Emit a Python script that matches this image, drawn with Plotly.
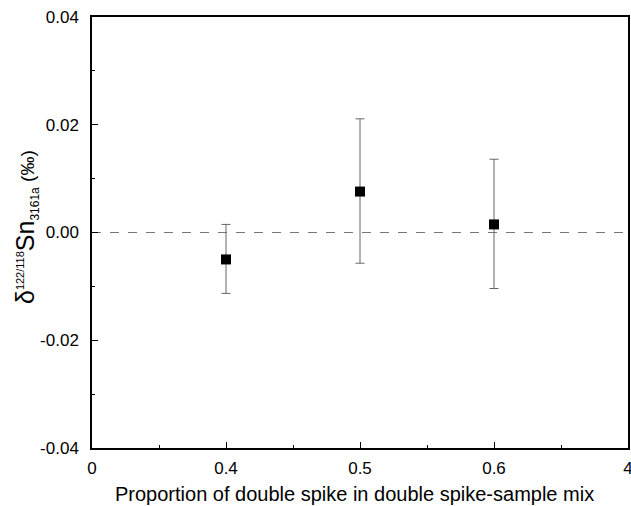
import plotly.graph_objects as go

x_vals = [0.4, 0.5, 0.6]
y_vals = [-0.0050, 0.0076, 0.0015]
y_upper = [0.0015, 0.0211, 0.0136]
y_lower = [-0.0113, -0.0057, -0.0104]

x_tickvals = [0.3, 0.4, 0.5, 0.6, 0.7]
x_ticktext = ["0", "0.4", "0.5", "0.6", "4"]
y_tickvals = [-0.04, -0.02, 0.0, 0.02, 0.04]
y_ticktext = ["-0.04", "-0.02", "0.00", "0.02", "0.04"]

x_title = "Proportion of double spike in double spike-sample mix"
y_title = ("δ<sup><span style='font-size:11px'>122/118</span></sup>Sn"
           "<sub><span style='font-size:12px'>3161a</span></sub>"
           "<span style='font-size:19px'> (‰)</span>")

err_plus = [u - y for u, y in zip(y_upper, y_vals)]
err_minus = [y - l for l, y in zip(y_lower, y_vals)]

fig = go.Figure()
fig.add_trace(go.Scatter(
    x=x_vals, y=y_vals, mode="markers",
    marker=dict(symbol="square", size=10, color="black"),
    error_y=dict(type="data", symmetric=False, array=err_plus, arrayminus=err_minus,
                 color="#666666", thickness=1, width=4.5),
    showlegend=False,
))

fig.add_shape(type="line", xref="paper", yref="y", x0=0, x1=1, y0=0, y1=0,
              line=dict(color="#777777", width=1, dash="dash"), layer="below")

font = "Liberation Sans, Arial, sans-serif"
fig.add_annotation(text=x_title, xref="paper", yref="paper", x=0.49, y=-0.107,
                   xanchor="center", yanchor="middle", showarrow=False,
                   font=dict(size=20, family=font, color="black"))
fig.add_annotation(text=y_title, xref="paper", yref="paper", x=-0.121, y=0.513,
                   xanchor="center", yanchor="middle", showarrow=False, textangle=-90,
                   font=dict(size=25, family=font, color="black"))

fig.update_layout(
    width=631, height=506,
    margin=dict(l=92, r=3, t=17, b=58),
    paper_bgcolor="white", plot_bgcolor="white",
    font=dict(family=font, color="black", size=17),
    xaxis=dict(
        range=[0.3, 0.7], tickvals=x_tickvals, ticktext=x_ticktext,
        ticks="inside", ticklen=6, tickwidth=1, tickcolor="black",
        showline=True, linecolor="black", linewidth=1.5, mirror=True,
        showgrid=False, zeroline=False, automargin=False, ticklabeloverflow="allow",
        minor=dict(dtick=0.05, tick0=0.35, ticks="inside", ticklen=3, tickcolor="black", showgrid=False),
        tickfont=dict(size=17), ticklabelstandoff=4,
    ),
    yaxis=dict(
        range=[-0.04, 0.04], tickvals=y_tickvals, ticktext=y_ticktext,
        ticks="inside", ticklen=6, tickwidth=1, tickcolor="black",
        showline=True, linecolor="black", linewidth=1.5, mirror=True,
        showgrid=False, zeroline=False, automargin=False, ticklabeloverflow="allow",
        minor=dict(dtick=0.01, tick0=-0.03, ticks="inside", ticklen=3, tickcolor="black", showgrid=False),
        tickfont=dict(size=17), ticklabelstandoff=8,
    ),
)

fig.write_html("out.html", config={"displayModeBar": False},
               post_script="document.body.style.margin='0';document.body.style.overflow='hidden';")
